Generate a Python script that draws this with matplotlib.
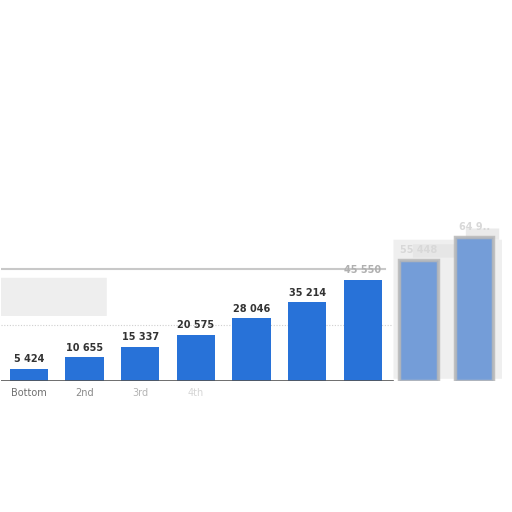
import matplotlib.pyplot as plt
from matplotlib.patches import FancyBboxPatch

categories = ["Bottom", "2nd", "3rd", "4th", "5th", "6th", "7th", "8th", "Top"]
values = [5424, 10655, 15337, 20575, 28046, 35214, 45100, 54000, 64300]
value_labels = ["5 424", "10 655", "15 337", "20 575", "28 046", "35 214", "45 550", "55 448", "64 9.."]
tick_colors = ["#6f6f6f", "#8a8a8a", "#b5b5b5", "#d6d6d6", "white", "white", "white", "white", "white"]

W = 512
fig = plt.figure(figsize=(5.12, 5.12), dpi=100)
scale = 0.002243  # px per unit
ymax = 70000
ax = fig.add_axes([1 / W, (512 - 381) / W, 501 / W, ymax * scale / W])
ax.set_xlim(-0.5, len(values) - 0.5)
ax.set_ylim(0, ymax)
ax.axis("off")

# blurred shadow areas
ax.add_patch(FancyBboxPatch((6.55, 1000), 2.35, 62000, boxstyle="round,pad=0,rounding_size=0.1",
                            fc="#ebebeb", ec="none", alpha=0.8, zorder=0))
ax.add_patch(FancyBboxPatch((6.9, 55000), 0.75, 6000, boxstyle="round,pad=0,rounding_size=0.1",
                            fc="#e6e6e6", ec="none", alpha=0.9, zorder=0))
ax.add_patch(FancyBboxPatch((7.85, 63000), 0.6, 5000, boxstyle="round,pad=0,rounding_size=0.1",
                            fc="#e8e8e8", ec="none", alpha=0.9, zorder=0))
ax.add_patch(FancyBboxPatch((-0.5, 29000), 1.9, 17000, boxstyle="round,pad=0,rounding_size=0.1",
                            fc="#eeeeee", ec="none", zorder=0))
ax.add_patch(FancyBboxPatch((-0.5, -6500), 4.0, 6000, boxstyle="round,pad=0,rounding_size=0.2",
                            fc="#f2f2f2", ec="none", zorder=0))

# frame lines
ax.plot([-0.5, 6.4], [50000, 50000], color="#c8c8c8", lw=1.5, zorder=1)
ax.plot([-0.5, 6.5], [25000, 25000], color="#cfcfcf", lw=0.8, ls=(0, (1, 1.5)), zorder=1)
ax.plot([-0.5, 6.55], [0, 0], color="#555555", lw=1.2, zorder=3)

colors = ["#2872d8"] * 7 + ["#5f8fd4", "#5f8fd4"]
bars = ax.bar(range(len(values)), values, width=0.69, color=colors, zorder=2)
for b in bars[7:]:
    b.set_edgecolor("#b8b8b8")
    b.set_linewidth(2.5)
    b.set_alpha(0.85)

for i, (v, lab) in enumerate(zip(values, value_labels)):
    if i < 6:
        c = "#333333"
    elif i == 6:
        c = "#b0b0b0"
    else:
        c = "#d8d8d8"
    ax.text(i, v + 2000, lab, ha="center", va="bottom", fontsize=7,
            fontweight="bold", color=c, zorder=4)

for i, (cat, c) in enumerate(zip(categories, tick_colors)):
    if c != "white":
        ax.text(i, -3300, cat, ha="center", va="top", fontsize=7, color=c, zorder=4)

fig.savefig("out.png", dpi=100, facecolor="white")
